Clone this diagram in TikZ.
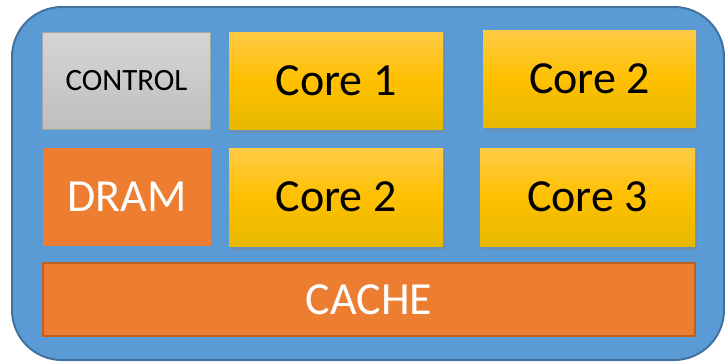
\documentclass[tikz,border=0pt]{standalone}
\usepackage{fontspec}
\setmainfont{Carlito}
\usepackage{tikz}
\usetikzlibrary{shadows}
\definecolor{boardblue}{HTML}{5B9BD5}
\definecolor{boardedge}{HTML}{41719C}
\definecolor{coreyel}{HTML}{FFC000}
\definecolor{coretop}{HTML}{FFCA45}
\definecolor{corebot}{HTML}{E6B800}
\definecolor{dramor}{HTML}{ED7D31}
\definecolor{cacheedge}{HTML}{C0601F}
\definecolor{ctrltop}{HTML}{D6D6D6}
\definecolor{ctrlbot}{HTML}{BEBEBE}
\definecolor{ctrledge}{HTML}{A6A6A6}

\begin{document}
\begin{tikzpicture}[x=1pt, y=-1pt,
  board/.style={draw=boardedge, line width=2pt, fill=boardblue, rounded corners=50pt},
  core/.style={minimum width=214pt, minimum height=97pt, inner sep=0pt,
    top color=coretop, bottom color=corebot, middle color=coreyel,
    drop shadow={shadow xshift=2pt, shadow yshift=-4pt, opacity=0.35},
    font=\fontsize{46}{50}\selectfont},
  ctrl/.style={draw=ctrledge, line width=1.2pt, minimum width=168pt, minimum height=97pt,
    inner sep=0pt, top color=ctrltop, bottom color=ctrlbot, font=\fontsize{31}{34}\selectfont},
  dram/.style={fill=dramor, minimum width=168pt, minimum height=98pt, inner sep=0pt,
    text=white, font=\fontsize{46}{50}\selectfont},
  cache/.style={dram, draw=cacheedge, line width=2.5pt, minimum width=652pt, minimum height=73pt}]
  \useasboundingbox (0,0) rectangle (725,362);
  \draw[board] (12,7) rectangle (724,360);
  \node[ctrl] (control) at (126.5,81) {CONTROL};
  \node[core] (core1) at (336,80.5) {Core 1};
  \node[core, minimum width=213pt] (core2a) at (589.5,79) {Core 2};
  \node[dram] (dram) at (127,197) {DRAM};
  \node[core, minimum height=98pt] (core2b) at (336,197) {Core 2};
  \node[core, minimum width=215pt, minimum height=98pt] (core3) at (587.5,197) {Core 3};
  \node[cache] (cache) at (369,299.5) {CACHE};
\end{tikzpicture}
\end{document}
